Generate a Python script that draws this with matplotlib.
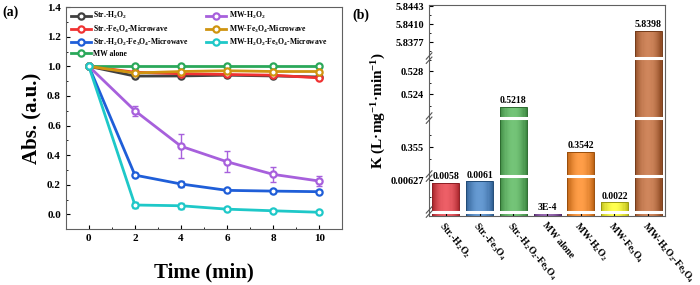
import numpy as np
import matplotlib
matplotlib.use("Agg")
import matplotlib.pyplot as plt
from matplotlib.ticker import FixedLocator, FormatStrFormatter, MultipleLocator
from matplotlib.transforms import ScaledTranslation

plt.rcParams['font.family'] = 'serif'
plt.rcParams['font.serif'] = ['Liberation Serif', 'DejaVu Serif']
plt.rcParams['font.weight'] = 'bold'
plt.rcParams['mathtext.fontset'] = 'custom'
plt.rcParams['mathtext.rm'] = 'Liberation Serif:bold'
plt.rcParams['mathtext.it'] = 'Liberation Serif:bold'
plt.rcParams['mathtext.bf'] = 'Liberation Serif:bold'
plt.rcParams['mathtext.default'] = 'rm'

# ---- panel (a) data ----
time = [0, 2, 4, 6, 8, 10]
str_h2o2 = [1.0, 0.934, 0.935, 0.94, 0.935, 0.928]
str_fe3o4_mw = [1.0, 0.96, 0.95, 0.945, 0.94, 0.922]
str_h2o2_fe3o4_mw = [1.0, 0.265, 0.205, 0.162, 0.157, 0.153]
mw_alone = [1.0, 1.0, 1.0, 1.0, 1.0, 1.0]
mw_h2o2 = [1.0, 0.70, 0.46, 0.355, 0.27, 0.225]
mw_fe3o4_mw = [1.0, 0.955, 0.965, 0.97, 0.965, 0.965]
mw_h2o2_fe3o4_mw = [1.0, 0.063, 0.058, 0.035, 0.024, 0.014]

err_small = [0, 0.01, 0.01, 0.01, 0.01, 0.01]
err_mw_h2o2 = [0, 0.035, 0.08, 0.07, 0.05, 0.035]
err_blue = [0, 0.012, 0.02, 0.012, 0.01, 0.012]
err_cyan = [0, 0.02, 0.02, 0.012, 0.01, 0.01]

# ---- panel (b) data ----
samples = ['Str.-H$_2$O$_2$', 'Str.-Fe$_3$O$_4$', 'Str.-H$_2$O$_2$-Fe$_3$O$_4$',
           'MW alone', 'MW-H$_2$O$_2$', 'MW-Fe$_3$O$_4$', 'MW-H$_2$O$_2$-Fe$_3$O$_4$']
k_values = [0.0058, 0.0061, 0.5218, 0.0003, 0.3542, 0.0022, 5.8398]
k_labels = ['0.0058', '0.0061', '0.5218', '3E-4', '0.3542', '0.0022', '5.8398']
bar_colors = ['#e8323c', '#3b7ec6', '#4db452', '#7a3c9c', '#ff8214', '#ffff1e', '#c2642e']
ytick_vals = [0.00627, 0.355, 0.524, 0.528, 5.8377, 5.8410, 5.8443]
ytick_labels = ['0.00627', '0.355', '0.524', '0.528', '5.8377', '5.8410', '5.8443']

fig = plt.figure(figsize=(7, 2.85), dpi=100)

# ================= (a) =================
ax1 = fig.add_axes([0.094, 0.196, 0.395, 0.779])
series = [
    ('Str.-H$_2$O$_2$', str_h2o2, err_small, '#404040'),
    ('Str.-Fe$_3$O$_4$-Microwave', str_fe3o4_mw, err_small, '#f03232'),
    ('Str.-H$_2$O$_2$-Fe$_3$O$_4$-Microwave', str_h2o2_fe3o4_mw, err_blue, '#1f5ed8'),
    ('MW alone', mw_alone, err_small, '#2aa85a'),
    ('MW-H$_2$O$_2$', mw_h2o2, err_mw_h2o2, '#a760dc'),
    ('MW-Fe$_3$O$_4$-Microwave', mw_fe3o4_mw, err_small, '#cf9410'),
    ('MW-H$_2$O$_2$-Fe$_3$O$_4$-Microwave', mw_h2o2_fe3o4_mw, err_cyan, '#1ec8c8'),
]
handles = {}
for name, vals, err, col in series:
    ax1.errorbar(time, vals, yerr=err, fmt='none', ecolor=col, elinewidth=1,
                 capsize=2.5, capthick=1)
    ln, = ax1.plot(time, vals, color=col, lw=2, marker='o', ms=4.5,
                   mfc='white', mec=col, mew=1.6)
    handles[name] = ln

order = [s[0] for s in series]
ax1.legend([handles[n] for n in order], order, ncol=2, loc='upper left',
           bbox_to_anchor=(0.0, 1.01), frameon=False, fontsize=5.5,
           handlelength=2.6, labelspacing=0.25, columnspacing=2.3,
           handletextpad=0.3, borderaxespad=0.3)

ax1.set_xlim(-1, 11)
ax1.set_ylim(-0.1, 1.4)
ax1.xaxis.set_major_locator(MultipleLocator(2))
ax1.xaxis.set_minor_locator(MultipleLocator(1))
ax1.yaxis.set_major_locator(MultipleLocator(0.2))
ax1.yaxis.set_minor_locator(MultipleLocator(0.1))
ax1.yaxis.set_major_formatter(FormatStrFormatter('%.1f'))
ax1.tick_params(which='both', direction='in', labelsize=8)
ax1.tick_params(which='major', length=3)
ax1.tick_params(which='minor', length=1.5)
ax1.set_xlabel('Time (min)', fontsize=15, fontweight='bold', labelpad=14)
ax1.set_ylabel('Abs. (a.u.)', fontsize=15, fontweight='bold', labelpad=4)
for sp in ax1.spines.values():
    sp.set_color('#606060')
fig.text(0.003, 0.945, '(a)', fontsize=10, fontweight='bold')

# ================= (b) =================
ax2 = fig.add_axes([0.613, 0.242, 0.337, 0.740])

# broken axis: value breakpoints and their heights (px) on the axis
seg_vals = [0, 0.0003, 0.0005, 0.00682, 0.35033, 0.35967, 0.520, 0.5301, 5.83495, 5.84448]
seg_pos = [0, 3, 5, 39, 41, 97, 99, 157, 159, 211]
gaps = [4, 40, 98, 158]


def fwd(y):
    return np.interp(y, seg_vals, seg_pos)


def inv(p):
    return np.interp(p, seg_pos, seg_vals)


ax2.set_yscale('function', functions=(fwd, inv))
ax2.set_ylim(0, seg_vals[-1])
ax2.set_xlim(-0.5, 6.5)

x = np.arange(len(samples))
w = 0.8
nstrip = 24
for xi, v, col in zip(x, k_values, bar_colors):
    base = np.array(matplotlib.colors.to_rgb(col))
    for j in range(nstrip):
        t = (j + 0.5) / nstrip
        s = np.sin(np.pi * t) ** 0.8
        c = base * (0.72 + 0.28 * s) + (1 - base) * 0.22 * s
        c = np.clip(c, 0, 1)
        ax2.bar(xi - w / 2 + (j + 0.5) * w / nstrip, v, width=w / nstrip * 1.08,
                color=c, linewidth=0, zorder=1)
    ax2.bar(xi, v, width=w, fill=False, edgecolor=base * 0.6, lw=0.7, zorder=1.5)

for xi, v, lab in zip(x, k_values, k_labels):
    ax2.annotate(lab, (xi, v), xytext=(0, 1), textcoords='offset points',
                 ha='center', va='bottom', fontsize=7, fontweight='bold')

# white gaps through bars and break marks on the left spine
for g in gaps:
    yf = g / seg_pos[-1]
    ax2.axhline(inv(g), color='white', lw=2.2, zorder=2)
    ax2.plot([-0.012, 0.012], [yf - 0.025, yf + 0.005], transform=ax2.transAxes,
             color='#555555', lw=0.8, clip_on=False, zorder=5)
    ax2.plot([-0.012, 0.012], [yf - 0.005, yf + 0.025], transform=ax2.transAxes,
             color='#555555', lw=0.8, clip_on=False, zorder=5)

ax2.yaxis.set_major_locator(FixedLocator(ytick_vals))
ax2.set_yticklabels(ytick_labels)
ax2.yaxis.set_minor_locator(FixedLocator([0.0031, 0.353, 0.357, 0.522, 0.526, 0.530,
                                          5.8361, 5.83935, 5.84265]))
ax2.set_xticks(x)
ax2.set_xticklabels(samples, rotation=-50, ha='left', va='top',
                    rotation_mode='anchor', fontsize=7)
shift = ScaledTranslation(-7 / 72, 0, fig.dpi_scale_trans)
for lab in ax2.get_xticklabels():
    lab.set_transform(lab.get_transform() + shift)
ax2.tick_params(which='both', direction='in', labelsize=7.5)
ax2.tick_params(axis='x', labelsize=7, pad=3)
ax2.tick_params(which='major', length=3)
ax2.tick_params(which='minor', length=1.5)
ax2.set_ylabel('K (L·mg$^{-1}$·min$^{-1}$)', fontsize=11, fontweight='bold', labelpad=2)
for sp in ax2.spines.values():
    sp.set_color('#606060')
    sp.set_zorder(3)
fig.text(0.503, 0.935, '(b)', fontsize=10, fontweight='bold')

fig.savefig('out.png', dpi=100)
